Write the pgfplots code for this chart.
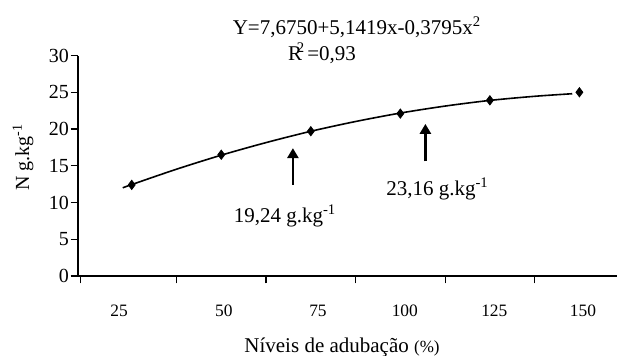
\documentclass[border=0pt]{standalone}
\usepackage{pgfplots}
\pgfplotsset{compat=1.18}
\usepackage{fontspec}
\setmainfont{Liberation Serif}
\usetikzlibrary{arrows.meta}
\begin{document}
\begin{tikzpicture}[every node/.append style={font=\fontsize{10.5}{12.6}\selectfont}]
\useasboundingbox (-39pt,-39.5pt) rectangle (271pt,138pt);
\begin{axis}[
  at={(0pt,0pt)}, anchor=south west,
  scale only axis, width=269.5pt, height=110.25pt,
  xmin=0.4, xmax=6.42, ymin=0, ymax=30,
  axis x line*=bottom, axis y line*=left,
  ytick={0,5,...,30},
  yticklabel style={font=\fontsize{10}{12}\selectfont, inner xsep=0.6pt},
  xtick={0.43,1.5,2.5,3.5,4.5,5.5}, xticklabels={},
  extra x ticks={0.86,2.03,3.08,4.05,5.05,6.04},
  extra x tick labels={25,50,75,100,125,150},
  extra x tick style={major tick length=0pt, xticklabel style={yshift=-11pt, font=\fontsize{8.7}{10}\selectfont}},
  tick align=outside, major tick length=3.7pt,
  tick style={black, line width=0.6pt},
  axis line style={line width=0.6pt},
  /pgf/number format/assume math mode=true,
  clip=false,
]
\addplot[black, line width=0.8pt, smooth, mark=none] coordinates {
(0.9,12.0)(1.0,12.44)(1.5,14.53)(2.0,16.44)(2.5,18.15)(3.0,19.69)(3.5,21.02)(4.0,22.17)(4.5,23.12)(5.0,23.89)(5.5,24.45)(5.92,24.8)};
\addplot[only marks, mark=diamond*, mark size=2.3pt, black] coordinates {
(1,12.4)(2,16.5)(3,19.7)(4,22.1)(5,23.9)(6,25.0)};
\draw[line width=1.3pt, -{Triangle[width=5.5pt,length=5pt]}] (axis cs:2.80,12.4) -- (axis cs:2.80,17.4);
\draw[line width=1.3pt, -{Triangle[width=5.5pt,length=5pt]}] (axis cs:4.28,15.6) -- (axis cs:4.28,20.7);
\end{axis}
\node at (139.5pt,124.5pt) {Y=7,6750+5,1419x-0,3795x\textsuperscript{2}};
\node at (122pt,111.5pt) {R\kern-2.6pt\textsuperscript{2}\kern1pt=0,93};
\node[rotate=90, font=\fontsize{10}{12}\selectfont] at (-27.5pt,59.5pt) {N g.kg\textsuperscript{-1}};
\node at (132pt,-35.5pt) {Níveis de adubação {\fontsize{8.5}{10}\selectfont(\%)}};
\node at (103.5pt,30pt) {19,24 g.kg\textsuperscript{-1}};
\node at (179.75pt,43.5pt) {23,16 g.kg\textsuperscript{-1}};
\end{tikzpicture}
\end{document}
